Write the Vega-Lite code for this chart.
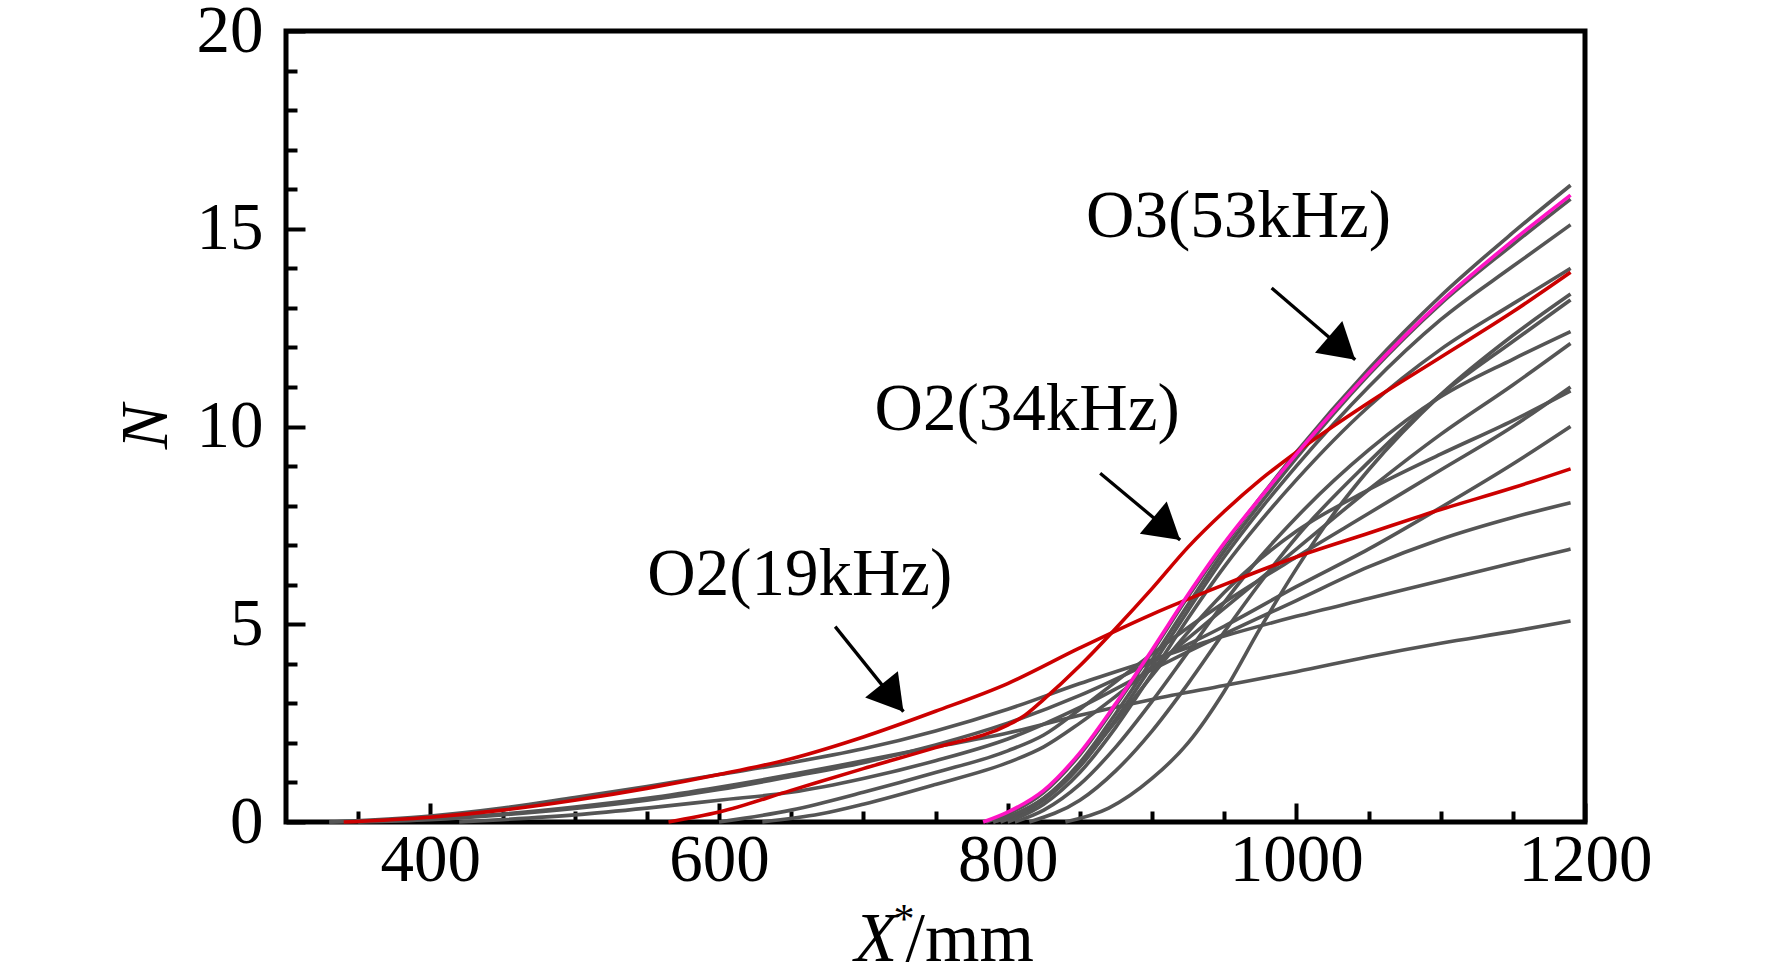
{
  "$schema": "https://vega.github.io/schema/vega-lite/v6.json",
  "description": "N-factor curves along X*, with O2(19kHz), O2(34kHz) and O3(53kHz) highlighted",
  "width": 1299,
  "height": 791,
  "autosize": {"type": "none"},
  "padding": {"left": 286, "top": 31, "right": 187, "bottom": 152},
  "datasets": {
    "curves": [
      {"s":"E1","c":"gray","x":330,"n":0},{"s":"E1","c":"gray","x":400,"n":0.15},{"s":"E1","c":"gray","x":450,"n":0.35},{"s":"E1","c":"gray","x":500,"n":0.62},{"s":"E1","c":"gray","x":550,"n":0.9},{"s":"E1","c":"gray","x":600,"n":1.2},{"s":"E1","c":"gray","x":650,"n":1.5},{"s":"E1","c":"gray","x":700,"n":1.85},{"s":"E1","c":"gray","x":750,"n":2.3},{"s":"E1","c":"gray","x":800,"n":2.85},{"s":"E1","c":"gray","x":850,"n":3.5},{"s":"E1","c":"gray","x":900,"n":4.1},{"s":"E1","c":"gray","x":950,"n":4.7},{"s":"E1","c":"gray","x":1000,"n":5.2},{"s":"E1","c":"gray","x":1050,"n":5.65},{"s":"E1","c":"gray","x":1100,"n":6.1},{"s":"E1","c":"gray","x":1150,"n":6.55},{"s":"E1","c":"gray","x":1190,"n":6.9},
      {"s":"E2","c":"gray","x":330,"n":0},{"s":"E2","c":"gray","x":400,"n":0.08},{"s":"E2","c":"gray","x":450,"n":0.2},{"s":"E2","c":"gray","x":500,"n":0.38},{"s":"E2","c":"gray","x":550,"n":0.6},{"s":"E2","c":"gray","x":600,"n":0.88},{"s":"E2","c":"gray","x":650,"n":1.2},{"s":"E2","c":"gray","x":700,"n":1.55},{"s":"E2","c":"gray","x":750,"n":1.9},{"s":"E2","c":"gray","x":800,"n":2.25},{"s":"E2","c":"gray","x":850,"n":2.7},{"s":"E2","c":"gray","x":900,"n":3.1},{"s":"E2","c":"gray","x":950,"n":3.45},{"s":"E2","c":"gray","x":1000,"n":3.8},{"s":"E2","c":"gray","x":1050,"n":4.18},{"s":"E2","c":"gray","x":1100,"n":4.52},{"s":"E2","c":"gray","x":1150,"n":4.82},{"s":"E2","c":"gray","x":1190,"n":5.08},
      {"s":"E3","c":"gray","x":420,"n":0},{"s":"E3","c":"gray","x":450,"n":0.06},{"s":"E3","c":"gray","x":500,"n":0.18},{"s":"E3","c":"gray","x":550,"n":0.35},{"s":"E3","c":"gray","x":600,"n":0.55},{"s":"E3","c":"gray","x":650,"n":0.75},{"s":"E3","c":"gray","x":700,"n":1.1},{"s":"E3","c":"gray","x":750,"n":1.55},{"s":"E3","c":"gray","x":800,"n":2.1},{"s":"E3","c":"gray","x":850,"n":2.9},{"s":"E3","c":"gray","x":900,"n":3.85},{"s":"E3","c":"gray","x":950,"n":4.75},{"s":"E3","c":"gray","x":1000,"n":5.6},{"s":"E3","c":"gray","x":1050,"n":6.45},{"s":"E3","c":"gray","x":1100,"n":7.15},{"s":"E3","c":"gray","x":1150,"n":7.7},{"s":"E3","c":"gray","x":1190,"n":8.07},
      {"s":"E4","c":"gray","x":350,"n":0},{"s":"E4","c":"gray","x":400,"n":0.06},{"s":"E4","c":"gray","x":450,"n":0.18},{"s":"E4","c":"gray","x":500,"n":0.34},{"s":"E4","c":"gray","x":550,"n":0.55},{"s":"E4","c":"gray","x":600,"n":0.82},{"s":"E4","c":"gray","x":650,"n":1.15},{"s":"E4","c":"gray","x":700,"n":1.5},{"s":"E4","c":"gray","x":750,"n":1.95},{"s":"E4","c":"gray","x":800,"n":2.5},{"s":"E4","c":"gray","x":850,"n":3.2},{"s":"E4","c":"gray","x":900,"n":4.05},{"s":"E4","c":"gray","x":950,"n":4.95},{"s":"E4","c":"gray","x":1000,"n":5.95},{"s":"E4","c":"gray","x":1050,"n":6.9},{"s":"E4","c":"gray","x":1100,"n":7.95},{"s":"E4","c":"gray","x":1150,"n":9.05},{"s":"E4","c":"gray","x":1190,"n":10.0},
      {"s":"M1","c":"gray","x":600,"n":0},{"s":"M1","c":"gray","x":650,"n":0.3},{"s":"M1","c":"gray","x":700,"n":0.75},{"s":"M1","c":"gray","x":750,"n":1.25},{"s":"M1","c":"gray","x":800,"n":1.8},{"s":"M1","c":"gray","x":825,"n":2.2},{"s":"M1","c":"gray","x":850,"n":2.85},{"s":"M1","c":"gray","x":875,"n":3.55},{"s":"M1","c":"gray","x":900,"n":4.25},{"s":"M1","c":"gray","x":950,"n":5.55},{"s":"M1","c":"gray","x":1000,"n":6.7},{"s":"M1","c":"gray","x":1050,"n":7.8},{"s":"M1","c":"gray","x":1100,"n":8.9},{"s":"M1","c":"gray","x":1150,"n":10.0},{"s":"M1","c":"gray","x":1190,"n":11.0},
      {"s":"M2","c":"gray","x":630,"n":0},{"s":"M2","c":"gray","x":670,"n":0.2},{"s":"M2","c":"gray","x":700,"n":0.45},{"s":"M2","c":"gray","x":750,"n":0.95},{"s":"M2","c":"gray","x":800,"n":1.5},{"s":"M2","c":"gray","x":825,"n":1.9},{"s":"M2","c":"gray","x":850,"n":2.5},{"s":"M2","c":"gray","x":900,"n":3.9},{"s":"M2","c":"gray","x":950,"n":5.4},{"s":"M2","c":"gray","x":1000,"n":6.9},{"s":"M2","c":"gray","x":1050,"n":8.4},{"s":"M2","c":"gray","x":1100,"n":9.8},{"s":"M2","c":"gray","x":1150,"n":11.05},{"s":"M2","c":"gray","x":1190,"n":12.1},
      {"s":"L1","c":"gray","x":785,"n":0},{"s":"L1","c":"gray","x":800,"n":0.2},{"s":"L1","c":"gray","x":825,"n":0.75},{"s":"L1","c":"gray","x":850,"n":1.7},{"s":"L1","c":"gray","x":875,"n":2.95},{"s":"L1","c":"gray","x":900,"n":4.3},{"s":"L1","c":"gray","x":925,"n":5.7},{"s":"L1","c":"gray","x":950,"n":7.0},{"s":"L1","c":"gray","x":975,"n":8.2},{"s":"L1","c":"gray","x":1000,"n":9.35},{"s":"L1","c":"gray","x":1050,"n":11.45},{"s":"L1","c":"gray","x":1100,"n":13.3},{"s":"L1","c":"gray","x":1150,"n":14.9},{"s":"L1","c":"gray","x":1190,"n":16.1},
      {"s":"L2","c":"gray","x":790,"n":0},{"s":"L2","c":"gray","x":800,"n":0.12},{"s":"L2","c":"gray","x":825,"n":0.6},{"s":"L2","c":"gray","x":850,"n":1.5},{"s":"L2","c":"gray","x":875,"n":2.75},{"s":"L2","c":"gray","x":900,"n":4.1},{"s":"L2","c":"gray","x":925,"n":5.5},{"s":"L2","c":"gray","x":950,"n":6.85},{"s":"L2","c":"gray","x":975,"n":8.05},{"s":"L2","c":"gray","x":1000,"n":9.2},{"s":"L2","c":"gray","x":1050,"n":11.3},{"s":"L2","c":"gray","x":1100,"n":13.1},{"s":"L2","c":"gray","x":1150,"n":14.6},{"s":"L2","c":"gray","x":1190,"n":15.75},
      {"s":"L3","c":"gray","x":795,"n":0},{"s":"L3","c":"gray","x":825,"n":0.55},{"s":"L3","c":"gray","x":850,"n":1.4},{"s":"L3","c":"gray","x":875,"n":2.6},{"s":"L3","c":"gray","x":900,"n":3.95},{"s":"L3","c":"gray","x":925,"n":5.35},{"s":"L3","c":"gray","x":950,"n":6.7},{"s":"L3","c":"gray","x":975,"n":7.9},{"s":"L3","c":"gray","x":1000,"n":9.0},{"s":"L3","c":"gray","x":1050,"n":11.0},{"s":"L3","c":"gray","x":1100,"n":12.7},{"s":"L3","c":"gray","x":1150,"n":14.05},{"s":"L3","c":"gray","x":1190,"n":15.1},
      {"s":"L4","c":"gray","x":800,"n":0},{"s":"L4","c":"gray","x":825,"n":0.45},{"s":"L4","c":"gray","x":850,"n":1.25},{"s":"L4","c":"gray","x":875,"n":2.4},{"s":"L4","c":"gray","x":900,"n":3.75},{"s":"L4","c":"gray","x":925,"n":5.15},{"s":"L4","c":"gray","x":950,"n":6.45},{"s":"L4","c":"gray","x":975,"n":7.6},{"s":"L4","c":"gray","x":1000,"n":8.65},{"s":"L4","c":"gray","x":1050,"n":10.5},{"s":"L4","c":"gray","x":1100,"n":11.95},{"s":"L4","c":"gray","x":1150,"n":13.1},{"s":"L4","c":"gray","x":1190,"n":14.0},
      {"s":"L5","c":"gray","x":840,"n":0},{"s":"L5","c":"gray","x":870,"n":0.35},{"s":"L5","c":"gray","x":900,"n":1.1},{"s":"L5","c":"gray","x":925,"n":2.0},{"s":"L5","c":"gray","x":950,"n":3.3},{"s":"L5","c":"gray","x":975,"n":4.9},{"s":"L5","c":"gray","x":1000,"n":6.4},{"s":"L5","c":"gray","x":1025,"n":7.75},{"s":"L5","c":"gray","x":1050,"n":8.9},{"s":"L5","c":"gray","x":1100,"n":10.8},{"s":"L5","c":"gray","x":1150,"n":12.3},{"s":"L5","c":"gray","x":1190,"n":13.35},
      {"s":"L6","c":"gray","x":815,"n":0},{"s":"L6","c":"gray","x":850,"n":0.55},{"s":"L6","c":"gray","x":875,"n":1.3},{"s":"L6","c":"gray","x":900,"n":2.3},{"s":"L6","c":"gray","x":925,"n":3.5},{"s":"L6","c":"gray","x":950,"n":4.8},{"s":"L6","c":"gray","x":975,"n":6.05},{"s":"L6","c":"gray","x":1000,"n":7.2},{"s":"L6","c":"gray","x":1050,"n":9.1},{"s":"L6","c":"gray","x":1100,"n":10.8},{"s":"L6","c":"gray","x":1150,"n":12.15},{"s":"L6","c":"gray","x":1190,"n":13.2},
      {"s":"L7","c":"gray","x":805,"n":0},{"s":"L7","c":"gray","x":825,"n":0.3},{"s":"L7","c":"gray","x":850,"n":0.95},{"s":"L7","c":"gray","x":875,"n":1.9},{"s":"L7","c":"gray","x":900,"n":3.05},{"s":"L7","c":"gray","x":925,"n":4.3},{"s":"L7","c":"gray","x":950,"n":5.55},{"s":"L7","c":"gray","x":975,"n":6.7},{"s":"L7","c":"gray","x":1000,"n":7.7},{"s":"L7","c":"gray","x":1050,"n":9.4},{"s":"L7","c":"gray","x":1100,"n":10.75},{"s":"L7","c":"gray","x":1150,"n":11.7},{"s":"L7","c":"gray","x":1190,"n":12.4},
      {"s":"L8","c":"gray","x":790,"n":0},{"s":"L8","c":"gray","x":825,"n":0.6},{"s":"L8","c":"gray","x":850,"n":1.45},{"s":"L8","c":"gray","x":875,"n":2.55},{"s":"L8","c":"gray","x":900,"n":3.7},{"s":"L8","c":"gray","x":925,"n":4.8},{"s":"L8","c":"gray","x":950,"n":5.8},{"s":"L8","c":"gray","x":975,"n":6.65},{"s":"L8","c":"gray","x":1000,"n":7.35},{"s":"L8","c":"gray","x":1050,"n":8.4},{"s":"L8","c":"gray","x":1100,"n":9.3},{"s":"L8","c":"gray","x":1150,"n":10.15},{"s":"L8","c":"gray","x":1190,"n":10.9},
      {"s":"R1","c":"red","x":340,"n":0},{"s":"R1","c":"red","x":400,"n":0.12},{"s":"R1","c":"red","x":450,"n":0.3},{"s":"R1","c":"red","x":500,"n":0.55},{"s":"R1","c":"red","x":550,"n":0.85},{"s":"R1","c":"red","x":600,"n":1.2},{"s":"R1","c":"red","x":650,"n":1.6},{"s":"R1","c":"red","x":700,"n":2.15},{"s":"R1","c":"red","x":750,"n":2.8},{"s":"R1","c":"red","x":800,"n":3.5},{"s":"R1","c":"red","x":850,"n":4.4},{"s":"R1","c":"red","x":900,"n":5.25},{"s":"R1","c":"red","x":950,"n":6.0},{"s":"R1","c":"red","x":1000,"n":6.7},{"s":"R1","c":"red","x":1050,"n":7.3},{"s":"R1","c":"red","x":1100,"n":7.9},{"s":"R1","c":"red","x":1150,"n":8.45},{"s":"R1","c":"red","x":1190,"n":8.93},
      {"s":"R2","c":"red","x":565,"n":0},{"s":"R2","c":"red","x":600,"n":0.25},{"s":"R2","c":"red","x":650,"n":0.8},{"s":"R2","c":"red","x":700,"n":1.35},{"s":"R2","c":"red","x":750,"n":1.88},{"s":"R2","c":"red","x":800,"n":2.45},{"s":"R2","c":"red","x":812,"n":2.7},{"s":"R2","c":"red","x":825,"n":3.1},{"s":"R2","c":"red","x":850,"n":3.95},{"s":"R2","c":"red","x":875,"n":4.9},{"s":"R2","c":"red","x":900,"n":5.9},{"s":"R2","c":"red","x":925,"n":6.95},{"s":"R2","c":"red","x":950,"n":7.85},{"s":"R2","c":"red","x":975,"n":8.65},{"s":"R2","c":"red","x":1000,"n":9.35},{"s":"R2","c":"red","x":1050,"n":10.6},{"s":"R2","c":"red","x":1100,"n":11.75},{"s":"R2","c":"red","x":1150,"n":12.9},{"s":"R2","c":"red","x":1190,"n":13.9},
      {"s":"M","c":"magenta","x":783,"n":0},{"s":"M","c":"magenta","x":800,"n":0.25},{"s":"M","c":"magenta","x":825,"n":0.8},{"s":"M","c":"magenta","x":850,"n":1.75},{"s":"M","c":"magenta","x":875,"n":3.0},{"s":"M","c":"magenta","x":900,"n":4.35},{"s":"M","c":"magenta","x":925,"n":5.75},{"s":"M","c":"magenta","x":950,"n":7.05},{"s":"M","c":"magenta","x":975,"n":8.2},{"s":"M","c":"magenta","x":1000,"n":9.3},{"s":"M","c":"magenta","x":1050,"n":11.35},{"s":"M","c":"magenta","x":1100,"n":13.15},{"s":"M","c":"magenta","x":1150,"n":14.7},{"s":"M","c":"magenta","x":1190,"n":15.85}
    ],
    "notes": [
      {"t":"O3(53kHz)","x":960,"n":14.79},
      {"t":"O2(34kHz)","x":813.5,"n":9.9},
      {"t":"O2(19kHz)","x":656,"n":5.74}
    ],
    "arrows": [
      {"a":"O3","x":982.9,"n":13.5,"x2":1040.8,"n2":11.69},
      {"a":"O2b","x":864.1,"n":8.82,"x2":919.5,"n2":7.13},
      {"a":"O2a","x":680.5,"n":4.94,"x2":727.8,"n2":2.79}
    ]
  },
  "layer": [
    {
      "data": {"name": "curves"},
      "transform": [{"filter": "datum.c === 'gray'"}],
      "mark": {"type": "line", "interpolate": "monotone", "stroke": "#555555", "strokeWidth": 3.6},
      "encoding": {
        "x": {"field": "x", "type": "quantitative",
          "scale": {"domain": [300, 1200], "nice": false, "zero": false},
          "axis": {"orient": "bottom", "values": [400, 600, 800, 1000, 1200], "format": "d", "tickSize": -19, "tickWidth": 4,
            "labelPadding": 24, "labelFlush": false, "labelOverlap": false,
            "title": "/mm", "titleFontSize": 70, "titleX": 619, "titleY": 138, "titleAlign": "left", "titleBaseline": "alphabetic",
            "titleAngle": 0}},
        "y": {"field": "n", "type": "quantitative",
          "scale": {"domain": [0, 20], "nice": false},
          "axis": {"orient": "left", "values": [0, 5, 10, 15, 20], "format": "d", "tickSize": -19, "tickWidth": 4,
            "labelPadding": 42, "labelOverlap": false,
            "title": "N", "titleFontStyle": "italic", "titlePadding": 16}},
        "detail": {"field": "s"}
      }
    },
    {
      "data": {"name": "curves"},
      "transform": [{"filter": "datum.c === 'red'"}],
      "mark": {"type": "line", "interpolate": "monotone", "stroke": "#cc0000", "strokeWidth": 3.6},
      "encoding": {
        "x": {"field": "x", "type": "quantitative", "axis": null},
        "y": {"field": "n", "type": "quantitative", "axis": null},
        "detail": {"field": "s"}
      }
    },
    {
      "data": {"name": "curves"},
      "transform": [{"filter": "datum.c === 'magenta'"}],
      "mark": {"type": "line", "interpolate": "monotone", "stroke": "#ff14c4", "strokeWidth": 3.6},
      "encoding": {
        "x": {"field": "x", "type": "quantitative", "axis": null},
        "y": {"field": "n", "type": "quantitative", "axis": null},
        "detail": {"field": "s"}
      }
    },
    {
      "data": {"name": "notes"},
      "mark": {"type": "text", "font": "Liberation Serif", "fontSize": 67, "align": "center", "baseline": "alphabetic", "color": "black"},
      "encoding": {
        "x": {"field": "x", "type": "quantitative",
          "axis": {"orient": "bottom", "values": [350, 450, 500, 550, 650, 700, 750, 850, 900, 950, 1050, 1100, 1150],
            "tickSize": -11, "tickWidth": 4, "labels": false,
            "title": "X", "titleFontStyle": "italic", "titleFontSize": 70, "titleX": 568, "titleY": 138, "titleAlign": "left",
            "titleBaseline": "alphabetic", "titleAngle": 0}},
        "y": {"field": "n", "type": "quantitative",
          "axis": {"orient": "left", "values": [1, 2, 3, 4, 6, 7, 8, 9, 11, 12, 13, 14, 16, 17, 18, 19],
            "tickSize": -11, "tickWidth": 4, "labels": false, "title": null}},
        "text": {"field": "t"}
      }
    },
    {
      "data": {"name": "arrows"},
      "mark": {"type": "rule", "stroke": "black", "strokeWidth": 3.3},
      "encoding": {
        "x": {"field": "x", "type": "quantitative",
          "axis": {"orient": "bottom", "ticks": false, "labels": false,
            "title": "*", "titleFontSize": 42, "titleX": 607, "titleY": 110, "titleAlign": "left",
            "titleBaseline": "alphabetic", "titleAngle": 0}},
        "y": {"field": "n", "type": "quantitative", "axis": null},
        "x2": {"field": "x2"},
        "y2": {"field": "n2"}
      }
    },
    {
      "data": {"name": "arrows"},
      "transform": [{"filter": "datum.a === 'O3'"}],
      "mark": {"type": "point", "shape": "M0,0L-0.6,1L0.6,1Z", "size": 4900, "angle": 130.6, "filled": true, "color": "black", "opacity": 1},
      "encoding": {
        "x": {"field": "x2", "type": "quantitative", "axis": null},
        "y": {"field": "n2", "type": "quantitative", "axis": null}
      }
    },
    {
      "data": {"name": "arrows"},
      "transform": [{"filter": "datum.a === 'O2b'"}],
      "mark": {"type": "point", "shape": "M0,0L-0.6,1L0.6,1Z", "size": 4900, "angle": 129.8, "filled": true, "color": "black", "opacity": 1},
      "encoding": {
        "x": {"field": "x2", "type": "quantitative", "axis": null},
        "y": {"field": "n2", "type": "quantitative", "axis": null}
      }
    },
    {
      "data": {"name": "arrows"},
      "transform": [{"filter": "datum.a === 'O2a'"}],
      "mark": {"type": "point", "shape": "M0,0L-0.6,1L0.6,1Z", "size": 4900, "angle": 141.2, "filled": true, "color": "black", "opacity": 1},
      "encoding": {
        "x": {"field": "x2", "type": "quantitative", "axis": null},
        "y": {"field": "n2", "type": "quantitative", "axis": null}
      }
    }
  ],
  "resolve": {"axis": {"x": "independent", "y": "independent"}},
  "config": {
    "font": "Liberation Serif",
    "view": {"stroke": "black", "strokeWidth": 5},
    "axis": {
      "domain": false, "grid": false,
      "tickColor": "black",
      "labelFont": "Liberation Serif", "labelFontSize": 67, "labelColor": "black",
      "titleFont": "Liberation Serif", "titleFontSize": 67, "titleFontWeight": "normal", "titleColor": "black"
    }
  }
}
